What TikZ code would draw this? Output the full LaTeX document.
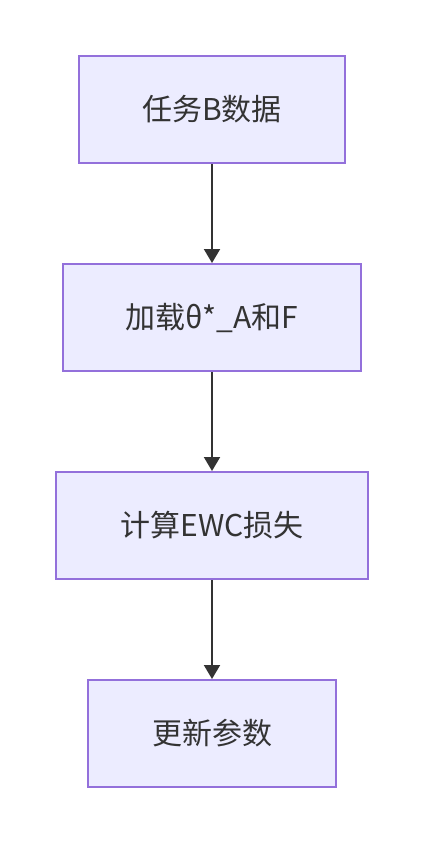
\documentclass[tikz,border=0pt]{standalone}
\usepackage{fontspec}
\setmainfont{Noto Sans CJK SC}
\usetikzlibrary{arrows.meta,positioning}
\definecolor{boxfill}{HTML}{ECECFF}
\definecolor{boxline}{HTML}{9370DB}
\definecolor{arrowcol}{HTML}{333333}

\begin{document}
\begin{tikzpicture}[x=1pt, y=1pt, >={Triangle[length=14pt,width=16pt]}, node distance=99pt]
\tikzstyle{every node}=[font=\fontsize{30}{35}\selectfont, text=arrowcol]
\tikzstyle{stepbox}=[draw=boxline, fill=boxfill, line width=2pt, minimum height=107pt, inner sep=0pt]
\tikzstyle{flow}=[->, draw=arrowcol, line width=2pt]
\useasboundingbox (0,0) rectangle (423,-844);
\node[stepbox, minimum width=266pt]  (data)  at (212,-109.5)   {任务B数据};
\node[stepbox, minimum width=298pt]  (load)  [below=of data]   {加载θ*\_A和F};
\node[stepbox, minimum width=312pt]  (loss)  [below=of load]   {计算EWC损失};
\node[stepbox, minimum width=248pt]  (upd)   [below=of loss]   {更新参数};
\draw[flow] (data) -- (load);
\draw[flow] (load) -- (loss);
\draw[flow] (loss) -- (upd);
\end{tikzpicture}
\end{document}
